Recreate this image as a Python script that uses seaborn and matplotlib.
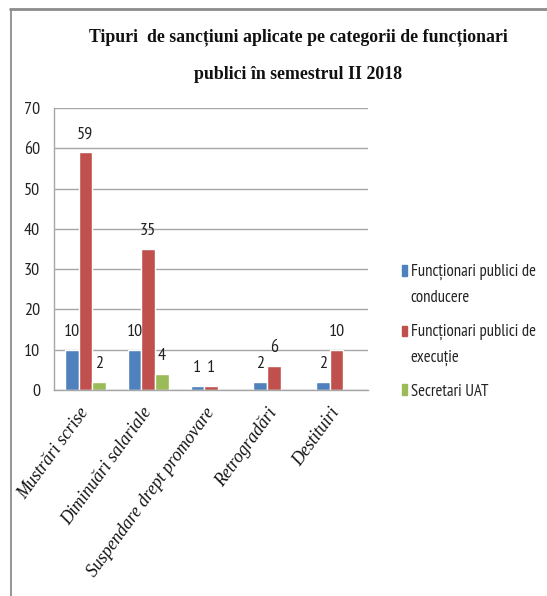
import matplotlib
matplotlib.use("Agg")
import matplotlib.pyplot as plt
from matplotlib.lines import Line2D
import seaborn as sns
import pandas as pd
import numpy as np

categories = ["Mustrări scrise", "Diminuări salariale", "Suspendare drept promovare",
              "Retrogradări", "Destituiri"]
series = ["Funcționari publici de\nconducere", "Funcționari publici de\nexecuție", "Secretari UAT"]
conducere = [10, 10, 1, 2, 2]
executie = [59, 35, 1, 6, 10]
secretari = [2, 4, None, None, None]
colors = ["#4F81BD", "#C0504D", "#9BBB59"]
yticks = [0, 10, 20, 30, 40, 50, 60, 70]

rows = []
for s, vals in zip(series, [conducere, executie, secretari]):
    for c, v in zip(categories, vals):
        if v is not None:
            rows.append({"categorie": c, "serie": s, "valoare": v})
df = pd.DataFrame(rows)

sns.set_style("white")
sans = ["PT Sans Narrow", "DejaVu Sans"]
serif = ["Liberation Serif", "DejaVu Serif"]
plt.rcParams["font.family"] = sans

fig = plt.figure(figsize=(5.47, 5.96), dpi=100)
ax = fig.add_axes([0.0987, 0.3456, 0.5741, 0.4732])

sns.barplot(data=df, x="categorie", y="valoare", hue="serie", order=categories,
            hue_order=series, palette=colors, saturation=1, width=0.65,
            ax=ax, legend=False)

for cont in ax.containers:
    ax.bar_label(cont, fmt="%g", padding=7, fontsize=13, color="#222222")

ax.set_xlim(-0.5, len(categories) - 0.5)
ax.set_ylim(0, 70)
ax.set_yticks(yticks)
ax.set_xlabel("")
ax.set_ylabel("")
ax.yaxis.grid(True, color="#a6a6a6", linewidth=1)
ax.set_axisbelow(True)
for side in ["top", "right"]:
    ax.spines[side].set_visible(False)
for side in ["left", "bottom"]:
    ax.spines[side].set_color("#a6a6a6")
    ax.spines[side].set_linewidth(1)

ax.tick_params(axis="y", direction="out", length=4, color="#a6a6a6", width=1,
               labelsize=13, pad=6, labelcolor="#222222")
ax.set_xticks(np.arange(len(categories)))
ax.set_xticks(np.arange(len(categories) + 1) - 0.5, minor=True)
ax.tick_params(axis="x", which="major", length=0, pad=14)
ax.tick_params(axis="x", which="minor", direction="out", length=5, color="#a6a6a6", width=1)
ax.set_xticklabels(categories, rotation=54, ha="right", va="center", rotation_mode="anchor")
for lbl in ax.get_xticklabels():
    lbl.set_fontfamily(serif)
    lbl.set_fontstyle("italic")
    lbl.set_fontsize(12.8)
    lbl.set_color("#111111")

handles = [plt.Rectangle((0, 0), 1, 1, color=c) for c in colors]
leg = fig.legend(handles, series, loc="center left", bbox_to_anchor=(0.735, 0.444),
                 frameon=False, fontsize=12, handlelength=0.32, handleheight=0.6,
                 handletextpad=0.2, labelspacing=1.05, borderpad=0, borderaxespad=0)
for t in leg.get_texts():
    t.set_linespacing(1.85)
    t.set_color("#222222")
for h, lab in zip(leg.legend_handles, series):
    if "\n" in lab:
        h.set_y(h.get_y() + 10)

fig.text(0.545, 0.906, "Tipuri  de sancțiuni aplicate pe categorii de funcționari\npublici în semestrul II 2018",
         ha="center", va="center", family=serif, fontweight="bold", fontsize=12.8,
         linespacing=2.55, color="#111111")

fig.add_artist(Line2D([0.018, 1.0], [0.985, 0.985], color="#8c8c8c", linewidth=2))
fig.add_artist(Line2D([0.02, 0.02], [0.0, 0.985], color="#8c8c8c", linewidth=1.3))

fig.savefig("out.png", dpi=100)
